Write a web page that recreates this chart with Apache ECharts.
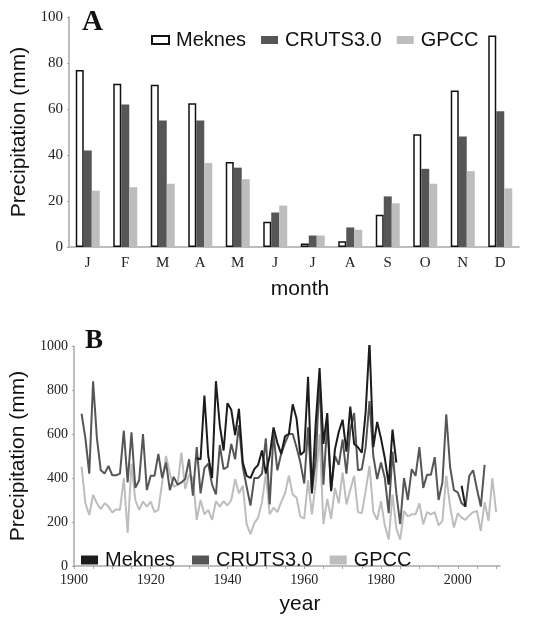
<!DOCTYPE html>
<html>
<head>
<meta charset="utf-8">
<script src="https://cdn.jsdelivr.net/npm/echarts@6/dist/echarts.min.js"></script>
<style>
  html, body { margin: 0; padding: 0; background: #fff; }
  #main { width: 552px; height: 617px; }
</style>
</head>
<body>
<div id="main"></div>
<script>
// panel A: monthly means
var months = ['J', 'F', 'M', 'A', 'M', 'J', 'J', 'A', 'S', 'O', 'N', 'D'];
var meknesMonthly = [77, 71, 70.5, 62.5, 37, 11, 1.5, 2.5, 14, 49, 68, 92];
var crutsMonthly = [42, 62, 55, 55, 34.5, 15, 5, 8.5, 22, 34, 48, 59];
var gpccMonthly = [24.5, 26, 27.5, 36.5, 29.5, 18, 5, 7.5, 19, 27.5, 33, 25.5];

// panel B: annual totals
var meknesStart = 1932;
var meknesAnnual = [
  490, 485, 775, 500, 400, 840, 640, 525, 740, 710,
  595, 715, 470, 410, 400, 440, 460, 525, 420, 500,
  630, 560, 510, 590, 600, 735, 670, 505, 520, 860,
  330, 650, 900, 555, 695, 340, 530, 610, 665, 520,
  725, 555, 540, 515, 700, 1020, 540, 655, 580, 490,
  370, 620, 470,
  null, null, null, null, null, null, null, null,
  null, null, null, null, null, null, null, null,
  365, 270
];
var crutsStart = 1902;
var crutsAnnual = [
  692, 580, 420, 840, 580, 435, 420, 455, 412, 412,
  420, 615, 380, 608, 355, 390, 600, 345, 410, 410,
  510, 400, 470, 345, 405, 370, 380, 395, 485, 320,
  540, 330, 445, 465, 370, 325, 550, 440, 450, 555,
  485, 640, 450, 360, 275, 400, 400, 420, 580, 280,
  600, 435, 510, 560, 600, 600, 540, 470, 375, 630,
  340, 480, 860, 370, 650, 345, 500, 460, 575, 420,
  620, 695, 435, 440, 540, 750, 500, 395, 470, 400,
  240, 520, 330, 190, 400, 300, 440, 410, 540, 355,
  415, 415, 495, 300, 380, 690, 450, 345, 335, 285,
  270, 410, 435, 350, 270, 460
];
var gpccStart = 1902;
var gpccAnnual = [
  452, 285, 232, 323, 285, 258, 285, 270, 243, 258,
  255, 400, 150, 465, 300, 255, 293, 270, 293, 245,
  255, 380, 500, 420, 360, 370, 515, 350, 415, 400,
  210, 300, 235, 255, 210, 295, 270, 295, 275, 300,
  395, 330, 365, 190, 145, 195, 220, 290, 420, 235,
  265, 245, 290, 330, 410, 325, 310, 225, 215, 390,
  235, 380, 600, 190, 305, 215, 355, 285, 425, 280,
  345, 410, 245, 240, 340, 455, 245, 210, 295, 185,
  120, 325, 170, 120, 250, 225, 235, 235, 285, 190,
  245, 235, 245, 185, 205, 410, 270, 175, 240, 220,
  210, 230, 245, 250, 160, 290, 205, 400, 245
];
var yearLabels = [1900, 1920, 1940, 1960, 1980, 2000];
var yearTicks = [1900, 1905, 1910, 1915, 1920, 1925, 1930, 1935, 1940, 1945, 1950, 1955,
  1960, 1965, 1970, 1975, 1980, 1985, 1990, 1995, 2000, 2005, 2010];

function toPairs(start, values) {
  return values.map(function (v, i) { return [start + i, v]; });
}
function plain(v) { return String(v); }

var SANS = 'Liberation Sans';
var SERIF = 'Liberation Serif';
var axisGray = '#a8a8a8';
var cBlack = '#1c1c1c';
var cDark = '#565656';
var cLight = '#bdbdbd';

var chart = echarts.init(document.getElementById('main'), null, { renderer: 'canvas' });

chart.setOption({
  backgroundColor: '#fff',
  animation: false,
  title: [
    { text: 'A', left: 77, top: 3, textStyle: { fontFamily: SERIF, fontWeight: 'bold', fontSize: 29, color: '#111' } },
    { text: 'B', left: 80, top: 323, textStyle: { fontFamily: SERIF, fontWeight: 'bold', fontSize: 27, color: '#111' } }
  ],
  legend: [
    {
      left: 146, top: 25, itemWidth: 17, itemHeight: 8, itemGap: 15,
      selectedMode: false,
      textStyle: { fontFamily: SANS, fontSize: 20, color: '#111', padding: [0, 0, 0, 2] },
      data: [
        { name: 'Meknes', icon: 'rect' },
        { name: 'CRUTS3.0', icon: 'rect' },
        { name: 'GPCC', icon: 'rect' }
      ]
    },
    {
      left: 76, top: 545, itemWidth: 17, itemHeight: 9, itemGap: 17,
      selectedMode: false,
      textStyle: { fontFamily: SANS, fontSize: 20, color: '#111', padding: [0, 0, 0, 2] },
      data: [
        { name: 'Meknes', icon: 'rect', itemStyle: { color: cBlack, borderWidth: 0 } },
        { name: 'CRUTS3.0', icon: 'rect', itemStyle: { color: cDark, borderWidth: 0 } },
        { name: 'GPCC', icon: 'rect', itemStyle: { color: cLight, borderWidth: 0 } }
      ]
    }
  ],
  grid: [
    { left: 69, right: 33, top: 17, bottom: 370 },
    { left: 69, right: 52, top: 346, bottom: 51 }
  ],
  xAxis: [
    {
      gridIndex: 0, type: 'category', data: months,
      name: 'month', nameLocation: 'middle', nameGap: 32,
      nameTextStyle: { fontFamily: SANS, fontSize: 21, color: '#111', padding: [0, 0, 0, 12] },
      axisLine: { lineStyle: { color: axisGray, width: 1.5 } },
      axisTick: { length: 3, lineStyle: { color: axisGray } },
      axisLabel: { fontFamily: SERIF, fontSize: 15, color: '#222', margin: 9 }
    },
    {
      gridIndex: 1, type: 'value', min: 1900, max: 2011, interval: 20,
      name: 'year', nameLocation: 'middle', nameGap: 28,
      nameTextStyle: { fontFamily: SANS, fontSize: 21, color: '#111', padding: [0, 0, 0, 26] },
      splitLine: { show: false },
      axisLine: { lineStyle: { color: axisGray, width: 1.5 } },
      axisTick: { length: 3, lineStyle: { color: axisGray }, customValues: yearTicks },
      axisLabel: { fontFamily: SERIF, fontSize: 14, color: '#222', margin: 7, customValues: yearLabels, formatter: plain }
    }
  ],
  yAxis: [
    {
      gridIndex: 0, type: 'value', min: 0, max: 100, interval: 20,
      name: 'Precipitation (mm)', nameLocation: 'middle', nameGap: 30,
      nameTextStyle: { fontFamily: SANS, fontSize: 21, color: '#111' },
      splitLine: { show: false },
      axisLine: { show: true, lineStyle: { color: axisGray, width: 1.5 } },
      axisTick: { show: true, length: 2, lineStyle: { color: axisGray } },
      axisLabel: { fontFamily: SERIF, fontSize: 15, color: '#222', margin: 6, formatter: plain }
    },
    {
      gridIndex: 1, type: 'value', min: 0, max: 1000, interval: 200,
      name: 'Precipitation (mm)', nameLocation: 'middle', nameGap: 30,
      nameTextStyle: { fontFamily: SANS, fontSize: 21, color: '#111' },
      splitLine: { show: false },
      axisLine: { show: true, lineStyle: { color: axisGray, width: 1.5 } },
      axisTick: { show: true, length: 2, lineStyle: { color: axisGray } },
      axisLabel: { fontFamily: SERIF, fontSize: 14, color: '#222', margin: 6, formatter: plain }
    }
  ],
  series: [
    {
      name: 'Meknes', type: 'bar', xAxisIndex: 0, yAxisIndex: 0,
      data: meknesMonthly, barWidth: 8, barGap: '0%',
      itemStyle: { color: '#fff', borderColor: '#111', borderWidth: 1.5 }
    },
    {
      name: 'CRUTS3.0', type: 'bar', xAxisIndex: 0, yAxisIndex: 0,
      data: crutsMonthly, barWidth: 8, barGap: '0%',
      itemStyle: { color: cDark }
    },
    {
      name: 'GPCC', type: 'bar', xAxisIndex: 0, yAxisIndex: 0,
      data: gpccMonthly, barWidth: 8, barGap: '0%',
      itemStyle: { color: cLight }
    },
    {
      name: 'GPCC', type: 'line', xAxisIndex: 1, yAxisIndex: 1,
      data: toPairs(gpccStart, gpccAnnual), showSymbol: false, z: 2,
      lineStyle: { color: cLight, width: 2 }, itemStyle: { color: cLight }
    },
    {
      name: 'CRUTS3.0', type: 'line', xAxisIndex: 1, yAxisIndex: 1,
      data: toPairs(crutsStart, crutsAnnual), showSymbol: false, z: 3,
      lineStyle: { color: cDark, width: 2 }, itemStyle: { color: cDark }
    },
    {
      name: 'Meknes', type: 'line', xAxisIndex: 1, yAxisIndex: 1,
      data: toPairs(meknesStart, meknesAnnual), showSymbol: false, z: 4,
      lineStyle: { color: cBlack, width: 2 }, itemStyle: { color: cBlack }
    }
  ]
});
</script>
</body>
</html>
